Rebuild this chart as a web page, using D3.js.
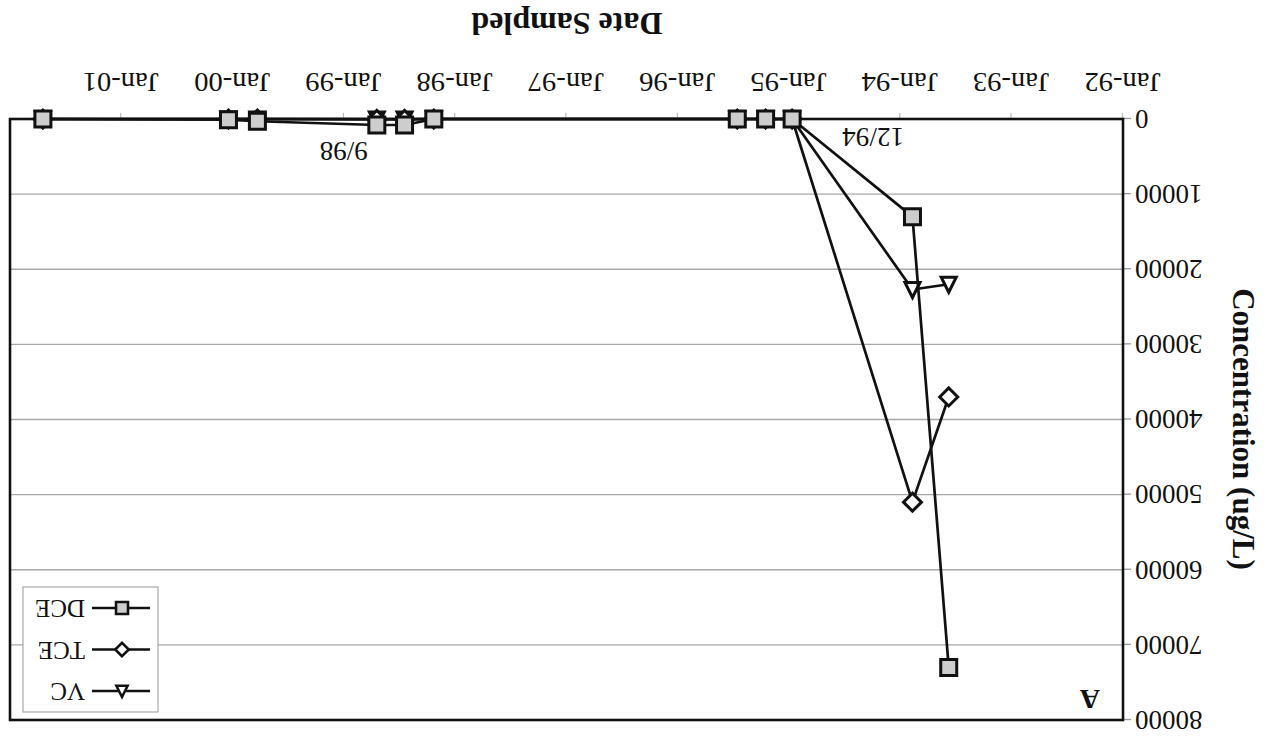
<!DOCTYPE html>
<html>
<head>
<meta charset="utf-8">
<script src="https://cdn.jsdelivr.net/npm/d3@7"></script>
<style>
  body { margin: 0; background: #fff; }
  svg { display: block; font-family: 'Liberation Serif', 'Times New Roman', serif; }
</style>
</head>
<body>
<div id="chart"></div>
<script>
// sample dates and concentrations (ug/L)
const sampleDates = ['1993-07-26', '1993-11-22', '1994-12-22', '1995-03-19', '1995-06-20',
    '1998-03-12', '1998-06-16', '1998-09-15', '1999-10-12', '2000-01-15', '2001-09-15'];
const dceValues = [73000, 13000, 0, 0, 0, 0, 800, 800, 300, 100, 0];
const tceValues = [37000, 51000, 0, 0, 0, 0, 50, 50, 0, 0, 0];
const vcValues = [22000, 22700, 0, 0, 0, 0, 0, 0, 0, 0, 0];
const seriesNames = ['VC', 'TCE', 'DCE'];
const yTickValues = [0, 10000, 20000, 30000, 40000, 50000, 60000, 70000, 80000];
const xTickLabels = ['Jan-92', 'Jan-93', 'Jan-94', 'Jan-95', 'Jan-96', 'Jan-97', 'Jan-98', 'Jan-99', 'Jan-00', 'Jan-01'];
const noteDates = ['1994-12-22', '1998-09-15'];
const noteTexts = ['12/94', '9/98'];

const width = 1272;
const height = 740;
const plot = {left: 149, right: 1262, top: 20, bottom: 621};

const parseDate = d3.timeParse('%Y-%m-%d');
const parseTick = d3.timeParse('%b-%y');

const x = d3.scaleTime()
    .domain([new Date(1992, 0, 1), new Date(2002, 0, 1)])
    .range([plot.left, plot.right]);
const y = d3.scaleLinear()
    .domain([0, 80000])
    .range([plot.bottom, plot.top]);

// marker shapes, sized like the spreadsheet ones
const squareShape = {draw(ctx) { ctx.rect(-8, -8, 16, 16); }};
const diamondShape = {draw(ctx) {
    ctx.moveTo(0, -9); ctx.lineTo(9, 0); ctx.lineTo(0, 9); ctx.lineTo(-9, 0); ctx.closePath();
}};
const triangleShape = {draw(ctx) {
    ctx.moveTo(0, -8); ctx.lineTo(7.5, 7); ctx.lineTo(-7.5, 7); ctx.closePath();
}};

const series = [
    {name: seriesNames[0], values: vcValues, shape: triangleShape, fill: '#fff'},
    {name: seriesNames[1], values: tceValues, shape: diamondShape, fill: '#fff'},
    {name: seriesNames[2], values: dceValues, shape: squareShape, fill: '#cdcdcd'}
];
series.forEach((s) => {
    s.points = sampleDates.map((d, i) => ({date: parseDate(d), value: s.values[i]}));
});

const svg = d3.select('#chart').append('svg')
    .attr('width', width)
    .attr('height', height);

svg.append('rect').attr('width', width).attr('height', height).attr('fill', '#fff');

// the source page is scanned upside down, so the whole chart is turned
const g = svg.append('g').attr('transform', `rotate(180 ${width / 2} ${height / 2})`);

// gridlines
g.append('g')
    .selectAll('line')
    .data(yTickValues.slice(1, -1))
    .enter().append('line')
    .attr('x1', plot.left)
    .attr('x2', plot.right)
    .attr('y1', (d) => y(d))
    .attr('y2', (d) => y(d))
    .attr('stroke', '#a8a8a8')
    .attr('stroke-width', 1.3);

// y axis
const yAxis = g.append('g')
    .attr('transform', `translate(${plot.left},0)`)
    .call(d3.axisLeft(y).tickValues(yTickValues).tickFormat(d3.format('d')).tickSize(8).tickPadding(4));
yAxis.select('.domain').remove();
yAxis.selectAll('line').attr('stroke', '#999').attr('stroke-width', 1.3);
yAxis.selectAll('text').attr('font-size', 27).attr('font-family', 'Liberation Serif').attr('fill', '#111');

// x axis
const xAxis = g.append('g')
    .attr('transform', `translate(0,${plot.bottom})`)
    .call(d3.axisBottom(x)
        .tickValues(xTickLabels.map((t) => parseTick(t)))
        .tickFormat(d3.timeFormat('%b-%y'))
        .tickSize(6)
        .tickPadding(21));
xAxis.select('.domain').remove();
xAxis.selectAll('line').attr('stroke', '#bbb').attr('stroke-width', 1.2);
xAxis.selectAll('text')
    .attr('font-size', 27)
    .attr('font-family', 'Liberation Serif')
    .attr('fill', '#111')
    .attr('transform', 'scale(1.06,1)');

// plot frame
g.append('rect')
    .attr('x', plot.left)
    .attr('y', plot.top)
    .attr('width', plot.right - plot.left)
    .attr('height', plot.bottom - plot.top)
    .attr('fill', 'none')
    .attr('stroke', '#111')
    .attr('stroke-width', 2.6);

// series: line then markers, one after the other
const line = d3.line()
    .x((d) => x(d.date))
    .y((d) => y(d.value));

series.forEach((s) => {
    const sg = g.append('g').attr('class', 'series');
    sg.append('path')
        .datum(s.points)
        .attr('d', line)
        .attr('fill', 'none')
        .attr('stroke', '#111')
        .attr('stroke-width', 2.7)
        .attr('stroke-linejoin', 'round');
    sg.selectAll('path.marker')
        .data(s.points)
        .enter().append('path')
        .attr('class', 'marker')
        .attr('d', d3.symbol().type(s.shape))
        .attr('transform', (d) => `translate(${x(d.date)},${y(d.value)})`)
        .attr('fill', s.fill)
        .attr('stroke', '#111')
        .attr('stroke-width', 3);
});

// date notes next to the points
g.append('text')
    .attr('x', x(parseDate(noteDates[0])) - 81)
    .attr('y', y(0) - 9)
    .attr('text-anchor', 'middle')
    .attr('font-size', 27)
    .attr('fill', '#111')
    .text(noteTexts[0]);
g.append('text')
    .attr('x', x(parseDate(noteDates[1])) + 33)
    .attr('y', y(0) - 23)
    .attr('text-anchor', 'middle')
    .attr('font-size', 27)
    .attr('fill', '#111')
    .text(noteTexts[1]);

// panel letter
g.append('text')
    .attr('x', plot.left + 23)
    .attr('y', plot.top + 30)
    .attr('font-size', 28)
    .attr('font-weight', 'bold')
    .attr('fill', '#111')
    .text('A');

// axis titles
g.append('text')
    .attr('x', 705)
    .attr('y', 727)
    .attr('text-anchor', 'middle')
    .attr('font-size', 32)
    .attr('font-weight', 'bold')
    .attr('fill', '#111')
    .text('Date Sampled');
g.append('text')
    .attr('transform', 'translate(39,311) rotate(-90)')
    .attr('text-anchor', 'middle')
    .attr('font-size', 31)
    .attr('font-weight', 'bold')
    .attr('fill', '#111')
    .text('Concentration (ug/L)');

// legend
const legend = g.append('g').attr('transform', 'translate(1114,28)');
legend.append('rect')
    .attr('width', 135)
    .attr('height', 125)
    .attr('fill', '#fff')
    .attr('stroke', '#aaa')
    .attr('stroke-width', 1.2);
const item = legend.selectAll('g.item')
    .data(series)
    .enter().append('g')
    .attr('class', 'item')
    .attr('transform', (d, i) => `translate(0,${21 + i * 41.5})`);
item.append('line')
    .attr('x1', 8)
    .attr('x2', 66)
    .attr('stroke', '#111')
    .attr('stroke-width', 2.6);
item.append('path')
    .attr('d', (d) => d3.symbol().type(d.shape)())
    .attr('transform', 'translate(36,0) scale(0.75)')
    .attr('fill', (d) => d.fill)
    .attr('stroke', '#111')
    .attr('stroke-width', 3.4);
item.append('text')
    .attr('x', 73)
    .attr('y', 8)
    .attr('font-size', 25)
    .attr('fill', '#111')
    .text((d) => d.name);
</script>
</body>
</html>
